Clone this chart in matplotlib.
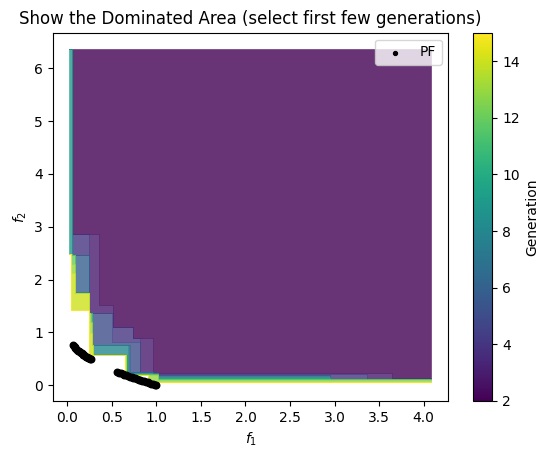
import numpy as np
import matplotlib
matplotlib.use('Agg')
import matplotlib.pyplot as plt
from matplotlib.cm import ScalarMappable

# reference point that bounds the dominated area
ref_point = (4.087, 6.36)

generations = list(range(2, 16))

# non-dominated points newly found in each generation (f1, f2)
front_points = {
    2: [(0.056, 2.86), (0.36, 1.515), (0.51, 1.105), (0.74, 0.884), (0.96, 0.235), (3.645, 0.13)],
    3: [(0.247, 1.36), (0.81, 0.25), (1.02, 0.215), (3.36, 0.122)],
    4: [(0.056, 2.46), (0.50, 0.82), (1.02, 0.20), (2.95, 0.115)],
    5: [(0.28, 0.76), (0.70, 0.25), (1.02, 0.185)],
    6: [(0.088, 1.77), (0.69, 0.24), (1.02, 0.17)],
    7: [(0.083, 1.75), (0.68, 0.23), (1.02, 0.155)],
    8: [(0.29, 0.57), (0.67, 0.22), (1.02, 0.14)],
    9: [(0.022, 2.48), (0.665, 0.215), (1.02, 0.13)],
    10: [(0.66, 0.21), (1.02, 0.12)],
    11: [(0.255, 1.2), (0.66, 0.205), (1.02, 0.11)],
    12: [(0.045, 2.3), (0.655, 0.2), (1.02, 0.095)],
    13: [(0.04, 2.12), (0.25, 0.98), (0.91, 0.055)],
    14: [(0.038, 1.42), (0.247, 0.57), (0.65, 0.195)],
    15: [(0.245, 0.58)],
}

# Pareto front samples
pf_f1 = [0.06, 0.07, 0.08, 0.09, 0.10, 0.11, 0.12, 0.13, 0.14, 0.15, 0.16,
         0.17, 0.18, 0.19, 0.20, 0.21, 0.22, 0.23, 0.24, 0.25, 0.26,
         0.56, 0.58, 0.60, 0.62, 0.64, 0.66, 0.68, 0.70, 0.72, 0.74, 0.76,
         0.78, 0.80, 0.82, 0.84, 0.86, 0.88, 0.90, 0.92, 0.94, 0.96, 0.98, 1.00]
pf_f2 = [0.755, 0.735, 0.717, 0.700, 0.684, 0.668, 0.654, 0.639, 0.626, 0.613, 0.600,
         0.588, 0.576, 0.564, 0.553, 0.542, 0.531, 0.520, 0.510, 0.500, 0.490,
         0.252, 0.238, 0.225, 0.213, 0.200, 0.188, 0.175, 0.163, 0.151, 0.140, 0.128,
         0.117, 0.106, 0.094, 0.083, 0.073, 0.062, 0.051, 0.041, 0.030, 0.020, 0.010, 0.000]

grid = np.array(sorted({x for pts in front_points.values() for x, _ in pts} | {ref_point[0]}))


def staircase(points):
    s = np.full(len(grid), ref_point[1])
    for x, y in points:
        s = np.where(grid >= x, np.minimum(s, y), s)
    return s


fig = plt.figure(figsize=(5.48, 4.58), dpi=100)
ax = fig.add_axes([0.0962, 0.1245, 0.7222, 0.8041])
cax = fig.add_axes([0.8637, 0.1245, 0.0347, 0.8041])

cmap = plt.get_cmap('viridis')
norm = plt.Normalize(2, 15)

archive = []
upper = np.full(len(grid), ref_point[1])
for g in generations:
    archive += front_points[g]
    lower = np.minimum(staircase(archive), upper)
    ax.fill_between(grid, lower, upper, step='post', color=cmap(norm(g)),
                    alpha=0.8, linewidth=0.4)
    upper = lower

ax.scatter(pf_f1, pf_f2, color='black', s=22, label='PF', zorder=3)
ax.legend(loc='upper right', markerscale=0.6)

ax.set_xlim(-0.165, 4.28)
ax.set_ylim(-0.30, 6.675)
ax.set_xlabel('$f_1$')
ax.set_ylabel('$f_2$')
ax.set_title('Show the Dominated Area (select first few generations)')

fig.colorbar(ScalarMappable(norm=norm, cmap=cmap), cax=cax, label='Generation')

fig.savefig('out.png', dpi=100)
